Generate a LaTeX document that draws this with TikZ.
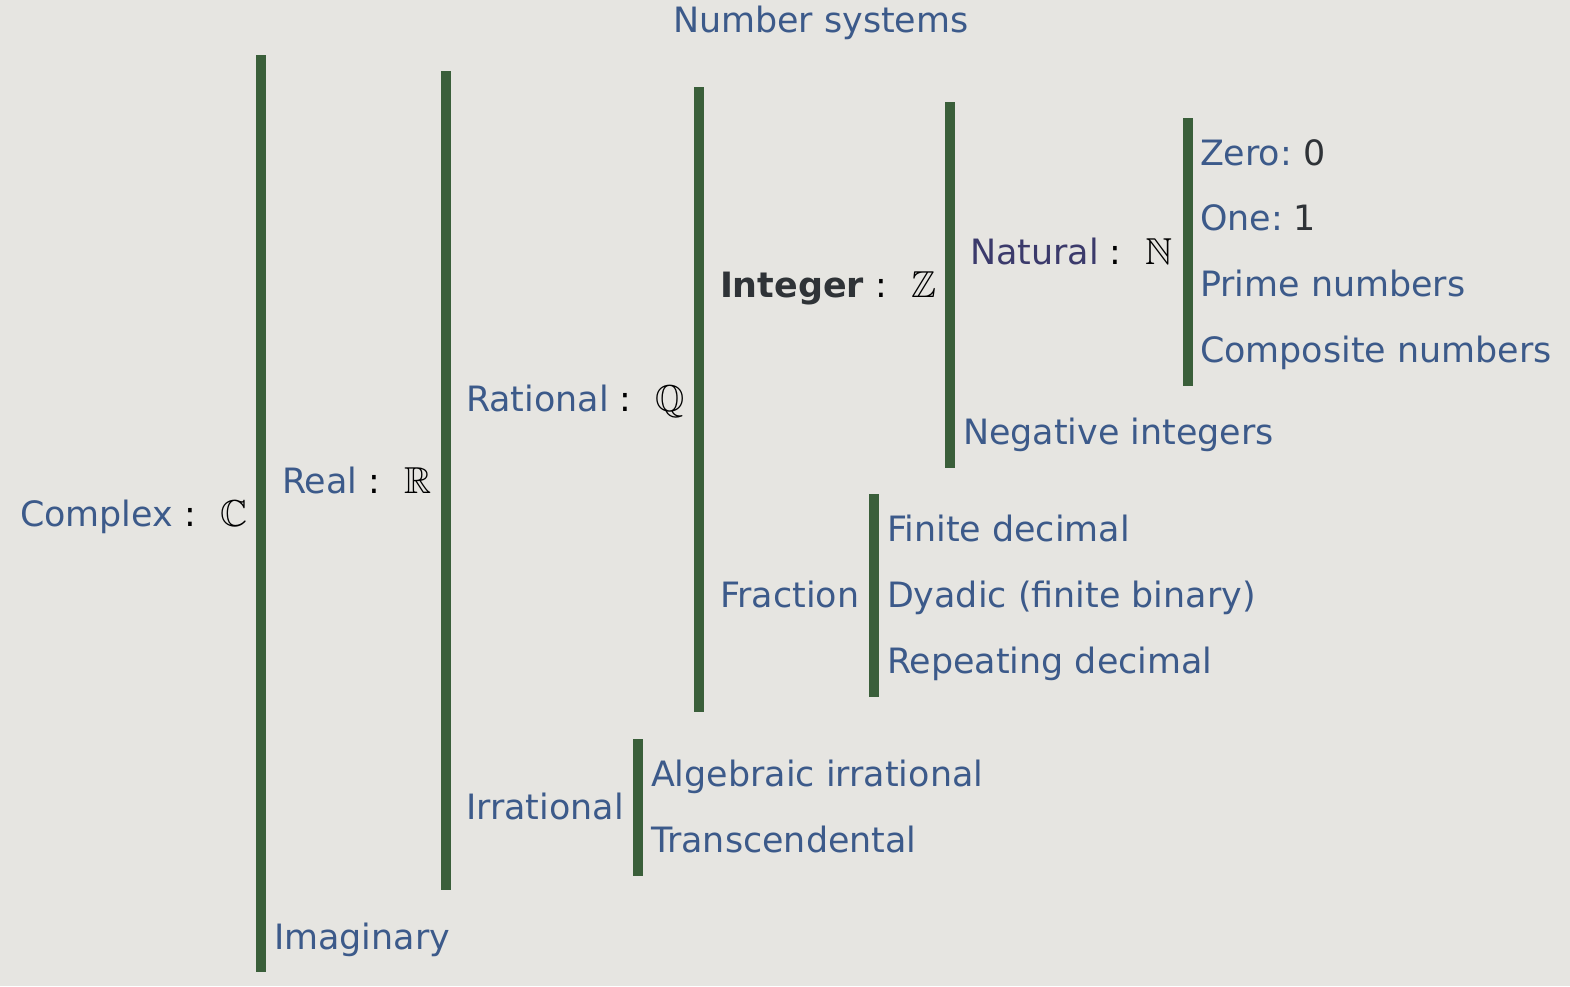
\documentclass[tikz,border=0pt]{standalone}
\usepackage{amssymb}
\DeclareFontFamily{U}{msb}{}
\DeclareFontShape{U}{msb}{m}{n}{<-> msbm10}{}
\usepackage{fontspec}
\setmainfont{DejaVu Sans}
\definecolor{bg}{HTML}{E6E5E1}
\definecolor{txt}{HTML}{3C5A8A}
\definecolor{nat}{HTML}{3B3A6B}
\definecolor{dark}{HTML}{2F3337}
\definecolor{barc}{HTML}{3A5F3A}
\tikzset{
  lbl/.style={anchor=base west, inner sep=0pt, outer sep=0pt, text=txt, font=\fontsize{34.9}{40}\selectfont},
  barbox/.style={fill=barc, draw=none, inner sep=0pt, minimum width=10pt, anchor=north},
}
\newcommand{\symsep}[1]{~{\color{black}:~~\kern2pt{\fontsize{37.5}{40}\selectfont$\mathbb{#1}$}}}
\begin{document}
\begin{tikzpicture}[x=1pt,y=1pt]
\fill[bg] (0,0) rectangle (1570,-986);
\useasboundingbox (0,0) rectangle (1570,-986);
% title
\node[lbl] (title) at (673,-32) {Number systems};
% bars
\node[barbox, minimum height=917pt] (b1) at (261,-55) {};
\node[barbox, minimum height=819pt] (b2) at (446,-71) {};
\node[barbox, minimum height=625pt] (b3) at (699,-87) {};
\node[barbox, minimum height=366pt] (b4) at (950,-102) {};
\node[barbox, minimum height=268pt] (b5) at (1188,-118) {};
\node[barbox, minimum height=203pt] (b6) at (874,-494) {};
\node[barbox, minimum height=137pt] (b7) at (638,-739) {};
% labels
\node[lbl] (complex) at (20,-526) {Complex\symsep{C}};
\node[lbl] (real) at (282,-493) {Real\symsep{R}};
\node[lbl] (imag) at (274,-949) {Imaginary};
\node[lbl] (rational) at (466,-411) {Rational\symsep{Q}};
\node[lbl] (irrational) at (466,-819) {Irrational};
\node[lbl, text=dark] (integer) at (720,-297) {\textbf{Integer}\symsep{Z}};
\node[lbl] (fraction) at (720,-607) {Fraction};
\node[lbl, text=nat] (natural) at (970,-264) {Natural\symsep{N}};
\node[lbl] (negint) at (963,-444) {Negative integers};
\node[lbl] (zero) at (1200,-165) {Zero:~{\color{dark}0}};
\node[lbl] (one) at (1200,-230) {One:~{\color{dark}1}};
\node[lbl] (prime) at (1200,-296) {Prime numbers};
\node[lbl] (composite) at (1200,-362) {Composite numbers};
\node[lbl] (finite) at (887,-541) {Finite decimal};
\node[lbl] (dyadic) at (887,-607) {Dyadic (finite binary)};
\node[lbl] (repeating) at (887,-673) {Repeating decimal};
\node[lbl] (algebraic) at (651,-786) {Algebraic irrational};
\node[lbl] (transc) at (651,-852) {Transcendental};
\end{tikzpicture}
\end{document}
